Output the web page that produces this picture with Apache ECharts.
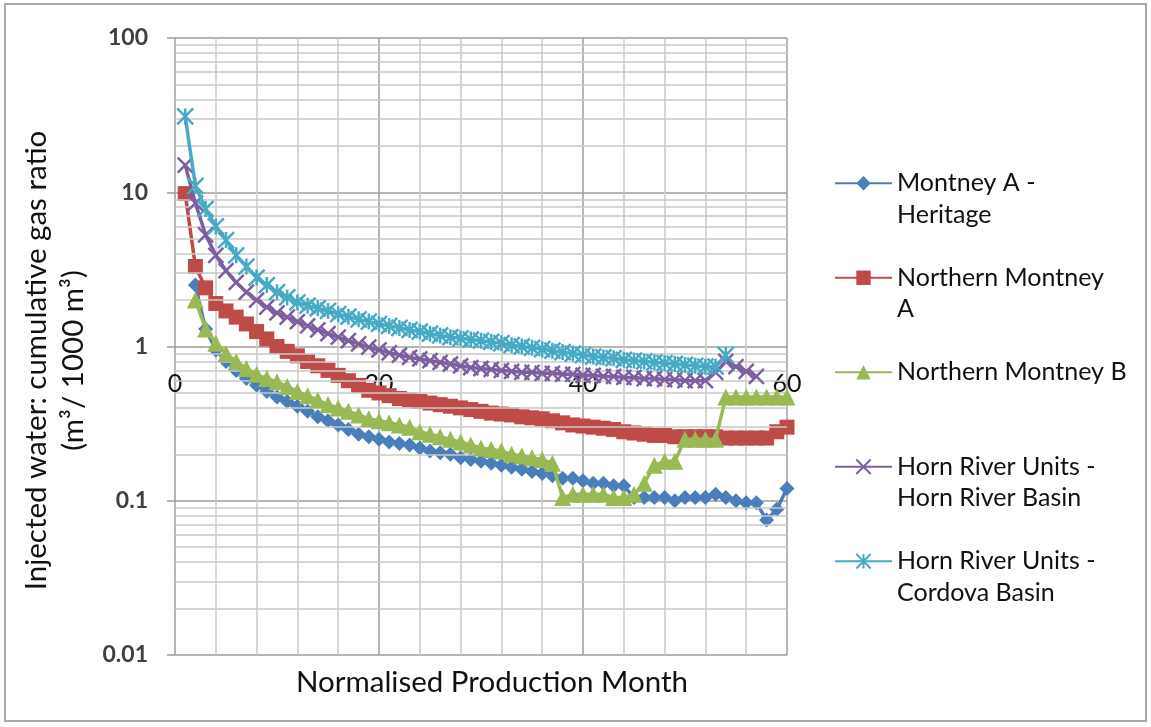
<!DOCTYPE html>
<html>
<head>
<meta charset="utf-8">
<script src="https://cdn.jsdelivr.net/npm/echarts@6/dist/echarts.min.js"></script>
<style>
html,body{margin:0;padding:0;background:#fff;}
#chart{width:1151px;height:727px;}
</style>
</head>
<body>
<div id="chart"></div>
<script>
// ---------- data ----------
const months = [1,2,3,4,5,6,7,8,9,10,11,12,13,14,15,16,17,18,19,20,21,22,23,24,25,26,27,28,29,30,
                31,32,33,34,35,36,37,38,39,40,41,42,43,44,45,46,47,48,49,50,51,52,53,54,55,56,57,58,59,60];

const seriesNames = ['Montney A - Heritage','Northern Montney A','Northern Montney B',
                     'Horn River Units - Horn River Basin','Horn River Units - Cordova Basin'];
const legendLabels = ['Montney A -\nHeritage','Northern Montney\nA','Northern Montney B\n ',
                      'Horn River Units -\nHorn River Basin','Horn River Units -\nCordova Basin'];

const montneyA = [null,2.5,1.3,0.95,0.8,0.7,0.62,0.56,0.51,0.47,0.44,0.41,0.38,0.35,0.33,0.31,0.29,0.27,0.26,0.25,
                  0.24,0.235,0.23,0.22,0.21,0.205,0.2,0.19,0.185,0.18,0.175,0.17,0.165,0.16,0.155,0.15,0.145,0.14,0.14,0.135,
                  0.13,0.13,0.125,0.125,0.105,0.105,0.105,0.105,0.1,0.105,0.105,0.105,0.11,0.105,0.1,0.097,0.097,0.075,0.088,0.12];

const northernA = [9.8,3.3,2.4,1.9,1.7,1.55,1.4,1.25,1.12,1.0,0.93,0.87,0.8,0.75,0.7,0.65,0.6,0.56,0.52,0.5,
                   0.48,0.46,0.45,0.44,0.43,0.42,0.41,0.4,0.39,0.38,0.37,0.365,0.36,0.35,0.345,0.34,0.33,0.32,0.31,0.305,
                   0.3,0.295,0.29,0.28,0.275,0.27,0.265,0.265,0.26,0.26,0.26,0.26,0.26,0.255,0.255,0.255,0.255,0.255,0.28,0.3];

const northernB = [null,2.0,1.3,1.05,0.9,0.8,0.72,0.66,0.62,0.59,0.55,0.51,0.48,0.45,0.42,0.4,0.38,0.36,0.34,0.33,
                   0.32,0.31,0.3,0.28,0.27,0.26,0.25,0.24,0.23,0.22,0.215,0.21,0.2,0.195,0.19,0.185,0.175,0.105,0.11,0.11,
                   0.11,0.11,0.105,0.105,0.11,0.13,0.17,0.18,0.18,0.25,0.25,0.25,0.25,0.47,0.47,0.47,0.47,0.47,0.47,0.47];

const hornRiver = [15,8.5,5.3,3.9,3.1,2.6,2.25,2.0,1.8,1.65,1.55,1.45,1.36,1.28,1.21,1.15,1.09,1.04,0.99,0.95,
                   0.91,0.88,0.85,0.83,0.81,0.79,0.77,0.75,0.73,0.72,0.71,0.7,0.69,0.68,0.68,0.67,0.67,0.66,0.66,0.65,
                   0.65,0.64,0.64,0.63,0.63,0.62,0.62,0.61,0.61,0.6,0.6,0.6,0.68,0.8,0.74,0.69,0.64,null,null,null];

const cordova = [31,11,7.8,6.0,4.9,3.9,3.3,2.8,2.5,2.25,2.08,1.93,1.84,1.77,1.7,1.62,1.56,1.5,1.45,1.4,
                 1.36,1.32,1.28,1.25,1.21,1.18,1.15,1.13,1.11,1.09,1.07,1.05,1.02,1.0,0.98,0.96,0.94,0.92,0.9,0.88,
                 0.86,0.85,0.84,0.82,0.81,0.8,0.79,0.78,0.77,0.76,0.75,0.74,0.74,0.88,null,null,null,null,null,null];

const xTickLabels = ['0','20','40','60'];
const yDecades = [0.01,0.1,1,10,100];
const minorMultipliers = [2,3,4,5,6,7,8,9];

// ---------- helpers ----------
function pairs(vals){
  const out = [];
  vals.forEach((v,i)=>{ if(v!==null) out.push([months[i], v]); });
  return out;
}
const minorLines = [];
yDecades.slice(0,-1).forEach(d=>minorMultipliers.forEach(m=>minorLines.push({yAxis: +(d*m).toPrecision(2)})));

const colors = ['#4A7EBB','#BE4B48','#98B954','#7D5FA0','#46AAC5'];
const XPATH = 'path://M0,0L10,10M10,0L0,10';
const STARPATH = 'path://M0,0L10,10M10,0L0,10M5,0L5,10';
const symbols = ['diamond','rect','triangle',XPATH,STARPATH];
const symbolSizes = [15,15,17,15,16];
const dataSets = [montneyA,northernA,northernB,hornRiver,cordova];
const FONT = 'Lato, "Open Sans", sans-serif';

const series = [{
  type:'line', name:'_grid', data:[], silent:true, z:1,
  markLine:{silent:true, symbol:['none','none'], label:{show:false},
    lineStyle:{type:'solid', color:'#c9c9c9', width:1.5}, emphasis:{disabled:true},
    animation:false, data:minorLines}
}];
dataSets.forEach((vals,i)=>{
  const stroked = i>=3;
  series.push({
    type:'line', name:seriesNames[i], data:pairs(vals), z:3+i,
    symbol:symbols[i], symbolSize:symbolSizes[i], showSymbol:true,
    lineStyle:{color:colors[i], width:3.5},
    itemStyle: stroked ? {color:colors[i], borderColor:colors[i], borderWidth:2.5}
                       : {color:colors[i], borderWidth:0},
    emphasis:{disabled:true}
  });
});

const chart = echarts.init(document.getElementById('chart'), null, {renderer:'canvas'});
chart.setOption({
  animation:false,
  backgroundColor:'#fff',
  textStyle:{fontFamily:FONT},
  graphic:[{type:'rect', shape:{x:5,y:4,width:1141,height:717},
            style:{fill:'none', stroke:'#a8a8a8', lineWidth:2}, silent:true}],
  grid:{left:175, right:364, top:38, bottom:72, containLabel:false},
  legend:{
    orient:'vertical', left:834, top:136, padding:0, itemGap:0,
    itemWidth:57, itemHeight:18,
    data:seriesNames,
    // a blank first line puts the first text line level with the icon
    formatter:(n)=>' \n' + legendLabels[seriesNames.indexOf(n)],
    textStyle:{fontFamily:FONT, fontSize:25, color:'#111', lineHeight:31.5}
  },
  xAxis:[{
    type:'value', min:0, max:60, interval:20, position:'bottom', offset:-308.5,
    axisLine:{show:false}, axisTick:{show:false},
    axisLabel:{margin:25, fontFamily:FONT, fontSize:25, color:'#111',
      formatter:(v)=>xTickLabels[xTickLabels.indexOf(String(v))] },
    splitLine:{show:true, lineStyle:{color:'#9e9e9e', width:1.5}},
    minorTick:{show:false, splitNumber:5},
    minorSplitLine:{show:true, lineStyle:{color:'#c9c9c9', width:1.5}}
  },{
    type:'value', min:0, max:60, position:'bottom',
    axisLine:{show:false}, axisTick:{show:false}, axisLabel:{show:false}, splitLine:{show:false},
    name:'Normalised Production Month', nameLocation:'middle', nameGap:12,
    nameTextStyle:{fontFamily:FONT, fontSize:29.5, color:'#111', padding:[0,0,0,22]}
  }],
  yAxis:{
    type:'log', logBase:10, min:0.01, max:100,
    axisLine:{show:false},
    axisTick:{show:true, length:8, lineStyle:{color:'#9e9e9e', width:1.5}},
    axisLabel:{margin:27, fontFamily:FONT, fontSize:23, fontWeight:'bold', color:'#404040',
      formatter:(v)=> String(yDecades.find(d=>Math.abs(Math.log10(d)-Math.log10(v))<1e-6) ?? v)},
    splitLine:{show:true, lineStyle:{color:'#9e9e9e', width:1.5}},
    name:'Injected water: cumulative gas ratio\n(m³/ 1000 m³)',
    nameLocation:'middle', nameGap:77, nameRotate:90,
    nameTextStyle:{fontFamily:FONT, fontSize:29.5, color:'#111', lineHeight:37, align:'center', padding:[0,28,0,0]}
  },
  series:series
});
</script>
</body>
</html>
